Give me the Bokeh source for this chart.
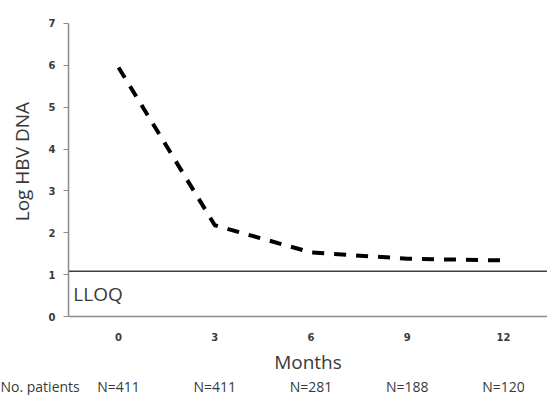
import math
from bokeh.plotting import figure
from bokeh.models import Range1d, LinearAxis, FixedTicker, Label
from bokeh.embed import file_html
from bokeh.resources import INLINE

months = [0, 3, 6, 9, 12]
log_hbv_dna = [5.95, 2.18, 1.53, 1.38, 1.34]
patients = ["N=411", "N=411", "N=281", "N=188", "N=120"]
patients_title = "No. patients"
y_title = "Log HBV DNA"
lloq = 1.08
y_ticks = [0, 1, 2, 3, 4, 5, 6, 7]
y_lo, y_hi = 0, 7

# view window (data units) so the whole canvas is the plotting frame
x_start, x_axis_pos, x_end = -3.68, -1.56, 13.37
y_start, y_end = -1.887, 7.549
title_pos = -2.52
y_title_pos = 3.7

p = figure(width=547, height=395, output_backend="svg", toolbar_location=None,
           x_range=Range1d(x_start, x_end), y_range=Range1d(y_start, y_end),
           min_border=0, x_axis_location=None, y_axis_location=None)
p.outline_line_color = None
p.grid.visible = False
p.background_fill_color = "white"
p.border_fill_color = "white"

tick_font = "DejaVu Sans"
txt_color = "#3a3a3a"
yax = LinearAxis(ticker=FixedTicker(ticks=y_ticks),
                 fixed_location=x_axis_pos, bounds=(y_lo, y_hi),
                 axis_line_color="#8c8c8c", axis_line_width=1.5,
                 major_tick_line_color="#8c8c8c", major_tick_out=5, major_tick_in=0,
                 minor_tick_line_color=None,
                 major_label_text_font=tick_font, major_label_text_font_style="bold",
                 major_label_text_font_size="10px", major_label_text_color=txt_color,
                 major_label_standoff=8)
p.add_layout(yax, "left")

xax = LinearAxis(ticker=FixedTicker(ticks=months), axis_label="Months",
                 fixed_location=y_lo, bounds=(x_axis_pos, x_end),
                 axis_line_color="#8c8c8c", axis_line_width=1.5,
                 major_tick_line_color=None, major_tick_out=0, major_tick_in=0,
                 minor_tick_line_color=None,
                 major_label_text_font=tick_font, major_label_text_font_style="bold",
                 major_label_text_font_size="10px", major_label_text_color=txt_color,
                 major_label_standoff=16,
                 axis_label_text_font="Open Sans", axis_label_text_font_style="normal",
                 axis_label_text_font_size="19px", axis_label_text_color=txt_color,
                 axis_label_standoff=5)
p.add_layout(xax, "below")

n_ticks = [title_pos] + months
n_labels = [patients_title] + patients
nax = LinearAxis(ticker=FixedTicker(ticks=n_ticks), fixed_location=y_lo,
                 major_label_overrides={t: s for t, s in zip(n_ticks, n_labels)},
                 axis_line_color=None, major_tick_line_color=None, minor_tick_line_color=None,
                 major_tick_out=0, major_tick_in=0,
                 major_label_text_font="Open Sans", major_label_text_font_size="14px",
                 major_label_text_color=txt_color, major_label_standoff=60)
p.add_layout(nax, "below")

p.segment(x0=[x_axis_pos], x1=[x_end], y0=[lloq], y1=[lloq], line_color="#404040", line_width=1.5)

p.line(months, log_hbv_dna, line_color="black", line_width=4, line_dash="12 10")

p.add_layout(Label(x=x_axis_pos + 0.15, y=lloq, y_offset=-36, text="LLOQ", text_font="Open Sans",
                   text_font_size="19px", text_color=txt_color))
p.add_layout(Label(x=x_axis_pos, y=y_title_pos, x_offset=-47, angle=math.pi / 2,
                   text=y_title, text_align="center", text_baseline="middle",
                   text_font="Open Sans", text_font_size="19px", text_color=txt_color))

open("out.html", "w").write(file_html(p, INLINE))
